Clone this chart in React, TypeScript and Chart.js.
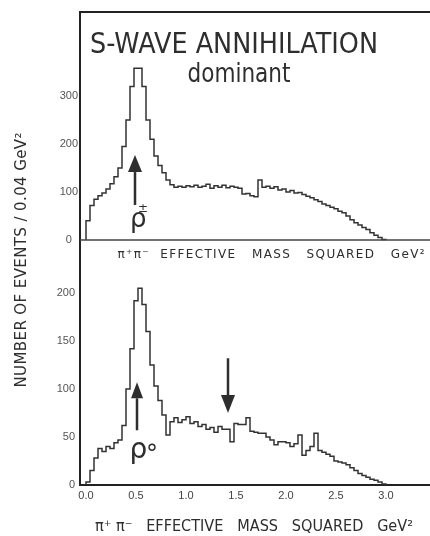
import React, { useEffect, useRef } from 'react';
import { Chart, registerables } from 'chart.js';

Chart.register(...registerables);

// ---------- data ----------
const BIN_START = 0.0;
const BIN_WIDTH = 0.04;

// S-wave, charged pi+pi0 / pi-pi0 (upper panel), events per bin
const chargedCounts = [
  40, 72, 85, 92, 98, 106, 117, 132, 150, 195,
  250, 320, 358, 358, 320, 250, 210, 175, 155, 140,
  125, 115, 110, 112, 110, 113, 111, 114, 110, 112,
  116, 108, 113, 110, 114, 109, 112, 110, 108, 96,
  97, 92, 90, 125, 110, 112, 108, 111, 104, 106,
  100, 103, 98, 99, 95, 91, 88, 84, 80, 75,
  72, 68, 65, 60, 57, 50, 42, 36, 31, 26,
  22, 15, 10, 5, 1,
];

// pi+pi- (lower panel), events per bin
const neutralCounts = [
  3, 15, 28, 38, 35, 40, 38, 44, 47, 62,
  100, 142, 192, 205, 188, 160, 125, 103, 88, 73,
  52, 66, 70, 65, 68, 71, 64, 66, 61, 63,
  58, 60, 55, 61, 58, 58, 45, 64, 63, 63,
  70, 56, 55, 54, 54, 50, 47, 42, 45, 45,
  44, 40, 43, 52, 31, 36, 40, 54, 36, 34,
  32, 30, 25, 24, 23, 21, 18, 15, 12, 10,
  8, 6, 5, 3, 1,
];

const xTickValues = [0, 0.5, 1.0, 1.5, 2.0, 2.5, 3.0];
const xTickLabels = ['0.0', '0.5', '1.0', '1.5', '2.0', '2.5', '3.0'];
const topTickValues = [0, 100, 200, 300];
const bottomTickValues = [0, 50, 100, 150, 200];

const titleText = 'S-WAVE ANNIHILATION';
const subtitleText = 'dominant';
const yTitleText = 'NUMBER OF EVENTS / 0.04 GeV²';
const topXTitle = 'π⁺π⁻  EFFECTIVE   MASS   SQUARED   GeV²';
const bottomXTitle = 'π⁺ π⁻   EFFECTIVE   MASS   SQUARED   GeV²';
const chargedName = 'ρ';
const chargedSup = '±';
const neutralName = 'ρ';
const neutralSup = '°';

// annotation anchors (data units)
const chargedArrow = { x: 0.49, from: 73, to: 177 };
const neutralArrow = { x: 0.51, from: 57, to: 107 };
const shoulderArrow = { x: 1.42, from: 132, to: 75 };

// ---------- helpers ----------
function toHistogram(counts: number[]) {
  const pts: { x: number; y: number }[] = [{ x: BIN_START, y: 0 }];
  counts.forEach((c, i) => pts.push({ x: BIN_START + i * BIN_WIDTH, y: c }));
  pts.push({ x: BIN_START + counts.length * BIN_WIDTH, y: 0 });
  return pts;
}

function drawFitted(ctx: CanvasRenderingContext2D, text: string, cx: number, baseY: number, width: number, font: string, rotate = 0) {
  ctx.save();
  ctx.font = font;
  const w = ctx.measureText(text).width;
  ctx.translate(cx, baseY);
  if (rotate) ctx.rotate(rotate);
  ctx.textBaseline = 'alphabetic';
  if (width > w && text.length > 1) {
    const sp = (width - w) / (text.length - 1);
    (ctx as any).letterSpacing = sp + 'px';
    ctx.textAlign = 'left';
    ctx.fillText(text, -width / 2, 0);
  } else {
    ctx.scale(width / w, 1);
    ctx.textAlign = 'center';
    ctx.fillText(text, 0, 0);
  }
  ctx.restore();
}

function drawCentered(ctx: CanvasRenderingContext2D, text: string, cx: number, cy: number, font: string) {
  ctx.save();
  ctx.font = font;
  ctx.textAlign = 'left';
  ctx.textBaseline = 'alphabetic';
  const m = ctx.measureText(text);
  const l = m.actualBoundingBoxLeft, r = m.actualBoundingBoxRight;
  const a = m.actualBoundingBoxAscent, d = m.actualBoundingBoxDescent;
  ctx.fillText(text, cx - (r - l) / 2, cy + (a - d) / 2);
  ctx.restore();
}

function drawArrow(ctx: CanvasRenderingContext2D, x: number, yFrom: number, yTo: number, headLen: number, headHalf: number, shaftW: number) {
  const dir = Math.sign(yTo - yFrom);
  ctx.save();
  ctx.lineWidth = shaftW;
  ctx.beginPath();
  ctx.moveTo(x, yFrom);
  ctx.lineTo(x, yTo - dir * headLen);
  ctx.stroke();
  ctx.beginPath();
  ctx.moveTo(x, yTo);
  ctx.lineTo(x - headHalf, yTo - dir * headLen);
  ctx.lineTo(x + headHalf, yTo - dir * headLen);
  ctx.closePath();
  ctx.fill();
  ctx.restore();
}

const INK = '#2e2e2e';
const SANS = '"DejaVu Sans", sans-serif';

const decorations = {
  id: 'decorations',
  afterDraw(chart: any) {
    const { ctx, chartArea: ca, scales } = chart;
    const x = scales.x, yT = scales.yTop, yB = scales.yBot;
    ctx.save();
    ctx.strokeStyle = '#222';
    ctx.fillStyle = INK;
    // frame top line
    ctx.lineWidth = 2;
    ctx.beginPath();
    ctx.moveTo(ca.left - 1, ca.top);
    ctx.lineTo(ca.right, ca.top);
    ctx.stroke();
    // upper panel baseline
    const y0 = yT.getPixelForValue(0);
    ctx.lineWidth = 1.5;
    ctx.strokeStyle = '#444';
    ctx.beginPath();
    ctx.moveTo(ca.left, y0);
    ctx.lineTo(ca.right, y0);
    ctx.stroke();
    ctx.strokeStyle = INK;

    // titles
    drawFitted(ctx, titleText, 234, 53, 288, `28px ${SANS}`);
    drawFitted(ctx, subtitleText, 239, 82, 103, `26px ${SANS}`);

    // axis titles
    drawFitted(ctx, topXTitle, 271, 258, 307, `12px ${SANS}`);
    drawFitted(ctx, bottomXTitle, 254, 531, 318, `15px ${SANS}`);
    drawFitted(ctx, yTitleText, 26, 260, 255, `15px ${SANS}`, -Math.PI / 2);

    // arrows
    const ax1 = x.getPixelForValue(chargedArrow.x);
    drawArrow(ctx, ax1, yT.getPixelForValue(chargedArrow.from), yT.getPixelForValue(chargedArrow.to), 17, 7, 2.5);
    const ax2 = x.getPixelForValue(neutralArrow.x);
    drawArrow(ctx, ax2, yB.getPixelForValue(neutralArrow.from), yB.getPixelForValue(neutralArrow.to), 16, 6, 2.5);
    const ax3 = x.getPixelForValue(shoulderArrow.x);
    drawArrow(ctx, ax3, yB.getPixelForValue(shoulderArrow.from), yB.getPixelForValue(shoulderArrow.to), 18, 7, 2.5);

    // resonance labels
    drawCentered(ctx, chargedName, x.getPixelForValue(0.53), yT.getPixelForValue(37), `26px ${SANS}`);
    drawCentered(ctx, chargedSup, x.getPixelForValue(0.57), yT.getPixelForValue(67), `12px ${SANS}`);
    drawCentered(ctx, neutralName, x.getPixelForValue(0.53), yB.getPixelForValue(33), `28px ${SANS}`);
    drawCentered(ctx, neutralSup, x.getPixelForValue(0.66), yB.getPixelForValue(40), `24px ${SANS}`);
    ctx.restore();
  },
};

export default function App() {
  const ref = useRef<HTMLCanvasElement | null>(null);
  useEffect(() => {
    if (!ref.current) return;
    Chart.defaults.font.family = '"Liberation Sans", sans-serif';
    const lineStyle = {
      stepped: 'before' as const,
      borderColor: '#333',
      borderWidth: 1.5,
      pointRadius: 0,
      fill: false,
      tension: 0,
    };
    const tickFont = { size: 11, family: '"Liberation Sans", sans-serif' };
    const chart = new Chart(ref.current, {
      type: 'line',
      data: {
        datasets: [
          { label: 'upper', data: toHistogram(chargedCounts), yAxisID: 'yTop', ...lineStyle },
          { label: 'lower', data: toHistogram(neutralCounts), yAxisID: 'yBot', ...lineStyle },
        ],
      },
      options: {
        animation: false,
        responsive: false,
        events: [],
        layout: { padding: { top: 12, left: 0, right: 0, bottom: 0 } },
        plugins: { legend: { display: false }, tooltip: { enabled: false }, title: { display: false } },
        scales: {
          x: {
            type: 'linear',
            min: -0.06,
            max: 3.44,
            afterBuildTicks: (s: any) => { s.ticks = xTickValues.map((v) => ({ value: v })); },
            ticks: {
              autoSkip: false,
              maxRotation: 0,
              padding: 4,
              color: '#444',
              font: tickFont,
              callback: (v: any) => { const i = xTickValues.indexOf(Number(v)); return i >= 0 ? xTickLabels[i] : ''; },
            },
            grid: { display: false, drawTicks: false },
            border: { display: true, color: '#222', width: 2 },
            afterFit: (s: any) => { s.height = 51; },
          },
          yBot: {
            type: 'linear',
            position: 'left',
            stack: 'panels',
            stackWeight: 223,
            min: 0,
            max: 232.3,
            afterBuildTicks: (s: any) => { s.ticks = bottomTickValues.map((v) => ({ value: v })); },
            ticks: { color: '#555', font: tickFont, padding: 5, crossAlign: 'near' },
            grid: { display: false, drawTicks: false },
            border: { display: true, color: '#222', width: 2 },
            afterFit: (s: any) => { s.width = 80; },
          },
          yTop: {
            type: 'linear',
            position: 'left',
            stack: 'panels',
            stackWeight: 250,
            min: -45.83,
            max: 475,
            afterBuildTicks: (s: any) => { s.ticks = topTickValues.map((v) => ({ value: v })); },
            ticks: { color: '#555', font: tickFont, padding: 2, crossAlign: 'center' },
            grid: { display: false, drawTicks: false },
            border: { display: true, color: '#222', width: 2 },
            afterFit: (s: any) => { s.width = 80; },
          },
        },
      } as any,
      plugins: [decorations],
    });
    return () => chart.destroy();
  }, []);
  return (
    <div style={{ position: 'absolute', left: 0, top: 0, width: 430, height: 536, background: '#fff' }}>
      <canvas ref={ref} width={430} height={536} style={{ display: 'block' }} />
    </div>
  );
}
